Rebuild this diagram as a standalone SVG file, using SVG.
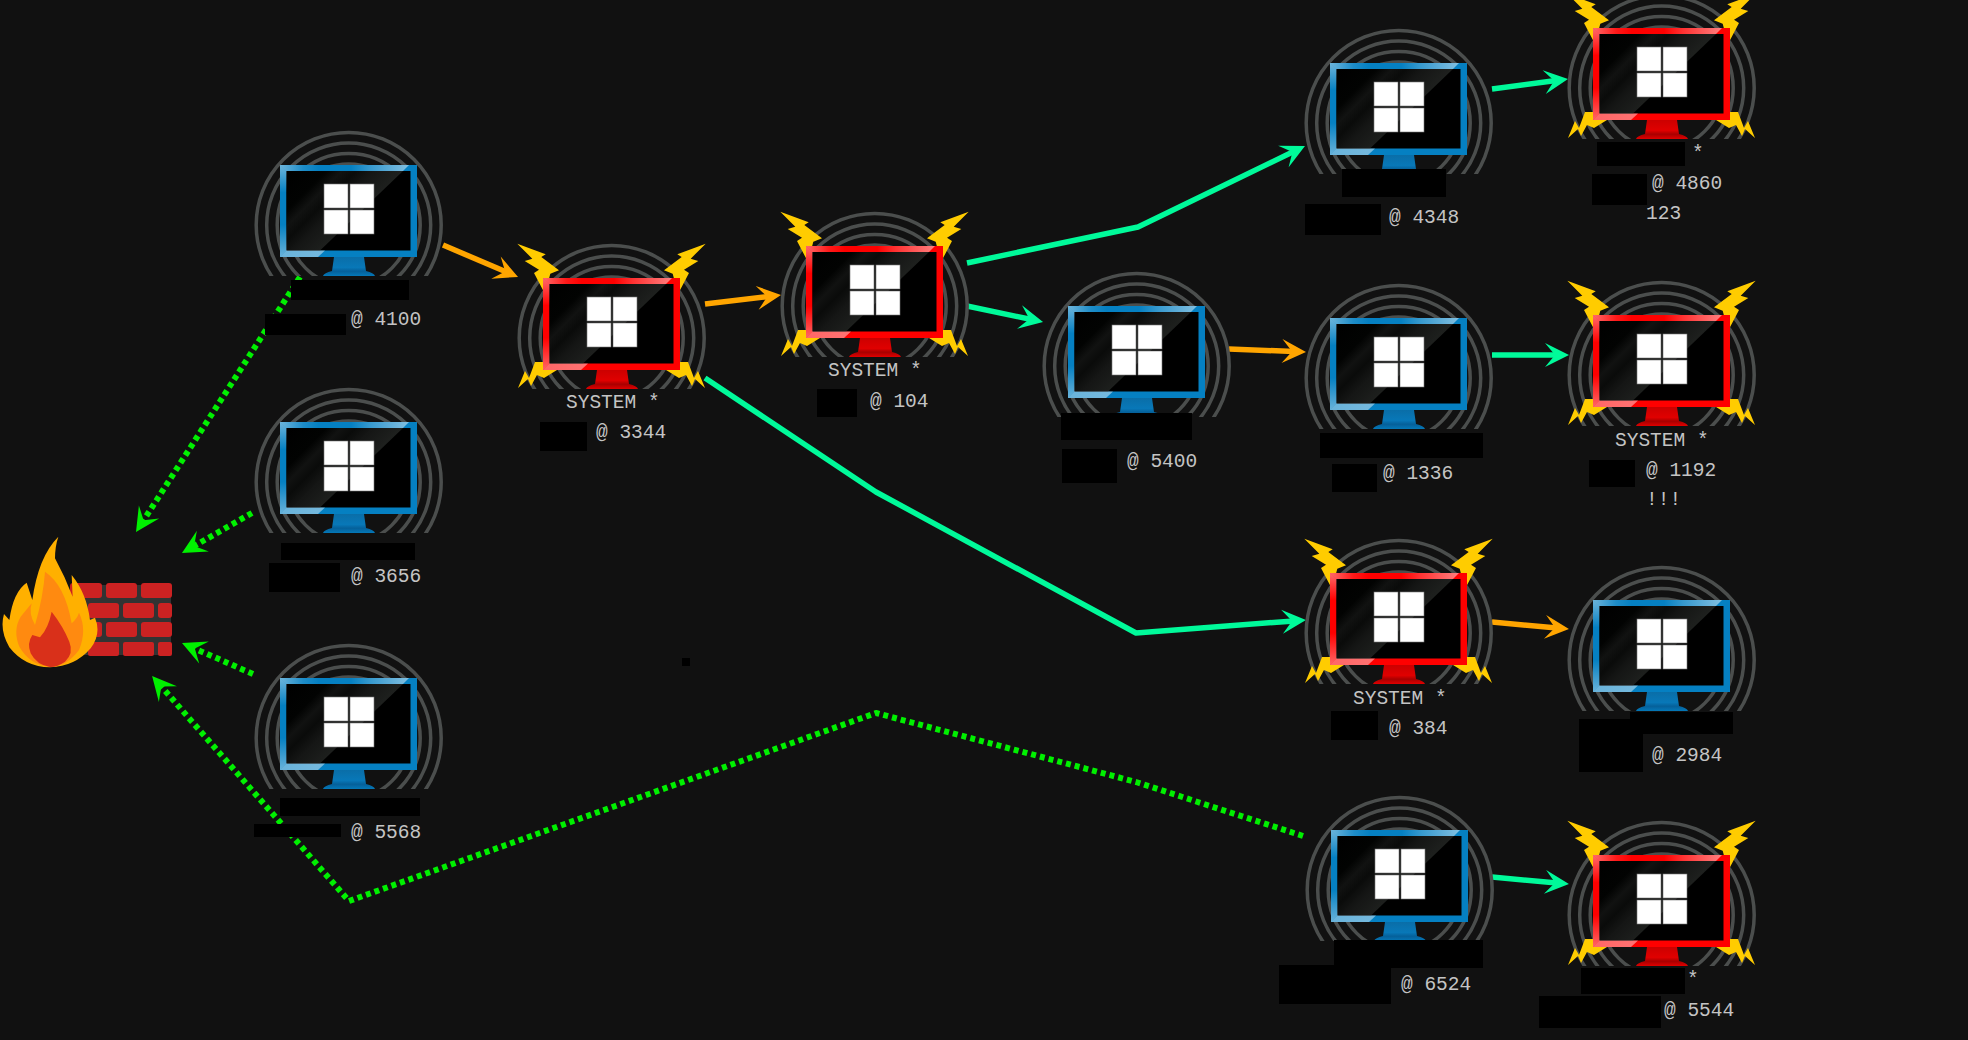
<svg xmlns="http://www.w3.org/2000/svg" width="1968" height="1040" viewBox="0 0 1968 1040">
<style>
.t{font-family:"Liberation Mono","DejaVu Sans Mono",monospace;font-size:19.5px;fill:#c4c4c4}
.k{fill:#000}
.c{fill:none;stroke-width:5.5;stroke-linejoin:round}
.g{stroke:#00fa9a;marker-end:url(#ag)}
.o{stroke:#ffa500;marker-end:url(#ao)}
.d{stroke:#00f000;stroke-width:6;stroke-dasharray:5 4;marker-end:url(#ad)}
.r{fill:none;stroke:#4b4e4d;stroke-width:3.5}
.b{fill:#ffcc00}
.w{fill:#fff;stroke:#777;stroke-width:.6}
.br{fill:#cc2222}
</style>
<defs>
<marker id="ag" markerUnits="userSpaceOnUse" markerWidth="26" markerHeight="26" viewBox="0 0 26 26" refX="14" refY="13" orient="auto"><path d="M26 13 2 1 12 13 2 25Z" fill="#00fa9a"/></marker>
<marker id="ao" markerUnits="userSpaceOnUse" markerWidth="26" markerHeight="26" viewBox="0 0 26 26" refX="14" refY="13" orient="auto"><path d="M26 13 2 1 12 13 2 25Z" fill="#ffa500"/></marker>
<marker id="ad" markerUnits="userSpaceOnUse" markerWidth="26" markerHeight="26" viewBox="0 0 26 26" refX="14" refY="13" orient="auto"><path d="M26 13 2 1 12 13 2 25Z" fill="#00f000"/></marker>
<clipPath id="cl"><rect x="-40" y="-60" width="220" height="171"/></clipPath>
<linearGradient id="gl" gradientUnits="userSpaceOnUse" x1="6" y1="6" x2="64" y2="64">
<stop offset="0" stop-color="#000"/><stop offset=".35" stop-color="#020302"/><stop offset=".48" stop-color="#111211"/><stop offset=".6" stop-color="#0a0b0a"/><stop offset=".75" stop-color="#151615"/><stop offset="1" stop-color="#1e201e"/>
</linearGradient>
<linearGradient id="gt"><stop offset="0" stop-color="#fff" stop-opacity=".42"/><stop offset=".18" stop-color="#fff" stop-opacity=".1"/><stop offset=".3" stop-color="#fff" stop-opacity="0"/><stop offset=".55" stop-color="#fff" stop-opacity="0"/><stop offset=".7" stop-color="#fff" stop-opacity=".2"/><stop offset="1" stop-color="#fff" stop-opacity=".5"/></linearGradient>
<linearGradient id="gf" x1="0" y1="0" x2="0" y2="1"><stop offset="0" stop-color="#fff" stop-opacity=".42"/><stop offset=".3" stop-color="#fff" stop-opacity="0"/><stop offset=".65" stop-color="#fff" stop-opacity="0"/><stop offset="1" stop-color="#fff" stop-opacity=".4"/></linearGradient>
<linearGradient id="gb"><stop offset="0" stop-color="#fff" stop-opacity=".4"/><stop offset="1" stop-color="#fff" stop-opacity=".45"/></linearGradient>
<linearGradient id="sb" x1="0" y1="0" x2="0" y2="1"><stop offset="0" stop-color="#0a6ea8"/><stop offset=".55" stop-color="#0878b8"/><stop offset=".75" stop-color="#05609a"/><stop offset="1" stop-color="#0478b8"/></linearGradient>
<linearGradient id="sr" x1="0" y1="0" x2="0" y2="1"><stop offset="0" stop-color="#c00"/><stop offset=".55" stop-color="#e00000"/><stop offset=".75" stop-color="#a80000"/><stop offset="1" stop-color="#e00000"/></linearGradient>
<g id="rings" clip-path="url(#cl)"><circle cx="68.7" cy="60" r="92.5" class="r"/><circle cx="68.7" cy="60" r="82" class="r"/><circle cx="68.7" cy="60" r="71.5" class="r"/><circle cx="68.7" cy="60" r="61" class="r"/></g>
<g id="glass">
<rect x="6.5" y="6" width="124" height="79.5" fill="#000"/>
<path d="M6.5 6H123L40 85.5H6.5Z" fill="url(#gl)"/>
<path d="M0 0H129L123 6H6.5Z" fill="url(#gt)"/>
<path d="M0 0 6.5 6V85.5L0 92Z" fill="url(#gf)"/>
<path d="M0 92 6.5 85.5H45L38 92Z" fill="url(#gb)"/>
<rect x="44" y="19" width="24" height="24" class="w"/><rect x="70" y="19" width="24" height="24" class="w"/><rect x="44" y="45" width="24" height="24" class="w"/><rect x="70" y="45" width="24" height="24" class="w"/>
</g>
<path id="stand" d="M54 92H84L86 106Q94 108 95 111H43Q44 108 52 106Z"/>
<g id="blue"><use href="#rings"/><rect width="137" height="92" fill="#0580c2"/><use href="#stand" fill="url(#sb)"/><use href="#glass"/></g>
<g id="bolts">
<g id="bl"><path class="b" d="M-25.7-34.3 2.7-23.7-1.7-21 16-7.7 7.3-4.3 2 16-9-5-4-8.3-18.3-17-10.7-19.3Z"/><path class="b" d="M-25 110-18 93-14 100-8 84 0 84 0 92 14 92 1 100-6 97-12 108-15 101Z"/></g>
<use href="#bl" transform="matrix(-1 0 0 1 137 0)"/>
</g>
<g id="red"><use href="#rings"/><use href="#bolts"/><rect width="137" height="92" fill="#f00"/><use href="#stand" fill="url(#sr)"/><use href="#glass"/></g>
</defs>
<rect width="1968" height="1040" fill="#111"/>
<g id="connectors">
<path class="c o" d="M443 245 507 272.3"/>
<path class="c o" d="M705 304 769.1 296.4"/>
<path class="c g" d="M967 306 1031.3 319.5"/>
<path class="c g" d="M967 263 1138 227 1294.2 151.2"/>
<path class="c o" d="M1229 349 1294 351.5"/>
<path class="c g" d="M1492 89 1556.1 80.6"/>
<path class="c g" d="M1492 355H1557"/>
<path class="c o" d="M1492 622 1557 628"/>
<path class="c g" d="M705 378 876 492 1136 633 1294 620.9"/>
<path class="c g" d="M1492 877 1557 883"/>
<path class="c d" d="M300 277 142.5 522"/>
<path class="c d" d="M252 513 192.4 547"/>
<path class="c d" d="M253 674 193 647.8"/>
<path class="c d" d="M1303 836 1136 782 876 713 349 901 160 685"/>
</g>
<g id="firewall">
<rect x="72" y="585" width="99" height="70" fill="#333"/>
<rect class="br" x="70" y="583" width="32" height="15" rx="3"/><rect class="br" x="106" y="583" width="31" height="15" rx="3"/><rect class="br" x="141" y="583" width="31" height="15" rx="3"/>
<rect class="br" x="88" y="603" width="31" height="15" rx="3"/><rect class="br" x="123" y="603" width="31" height="15" rx="3"/><rect class="br" x="158" y="603" width="14" height="15" rx="3"/>
<rect class="br" x="70" y="622" width="32" height="15" rx="3"/><rect class="br" x="106" y="622" width="31" height="15" rx="3"/><rect class="br" x="141" y="622" width="31" height="15" rx="3"/>
<rect class="br" x="88" y="642" width="31" height="14" rx="2"/><rect class="br" x="123" y="642" width="31" height="14" rx="2"/><rect class="br" x="158" y="642" width="14" height="14" rx="2"/>
<g transform="translate(0 520) scale(.3333)">
<path fill="#ffb000" d="M175 50Q115 110 97 240L80 188Q40 215 28 300L12 282Q-2 330 28 382Q75 442 150 442Q225 440 272 385Q305 340 285 293L270 300Q260 220 215 165L218 230Q195 170 165 115Q165 80 175 50Z"/>
<path fill="#ff8a10" d="M135 155Q195 195 215 310Q232 295 237 278Q262 330 237 390Q200 440 150 441Q90 435 58 380Q38 330 62 290L95 250Q85 280 105 315Q130 230 135 155Z"/>
<path fill="#d9301a" d="M155 275Q190 320 208 365Q222 400 195 425Q170 442 150 441Q110 435 92 400Q80 370 97 345L120 352Q145 325 155 275Z"/>
</g>
</g>
<g id="node-1"><use href="#blue" x="280" y="165"/><rect class="k" x="291" y="280" width="118" height="20"/><text class="t" x="351" y="325">@ 4100</text><rect class="k" x="265" y="314" width="81" height="21"/></g>
<g id="node-2"><use href="#blue" x="280" y="422"/><rect class="k" x="281" y="543" width="134" height="17"/><text class="t" x="351" y="582">@ 3656</text><rect class="k" x="269" y="563" width="71" height="29"/></g>
<g id="node-3"><use href="#blue" x="280" y="678"/><rect class="k" x="280" y="798" width="140" height="18"/><text class="t" x="351" y="838">@ 5568</text><rect class="k" x="254" y="824" width="87" height="13"/></g>
<g id="node-4"><use href="#red" x="543" y="278"/><text class="t" x="566" y="408">SYSTEM *</text><text class="t" x="596" y="438">@ 3344</text><rect class="k" x="540" y="422" width="47" height="29"/></g>
<g id="node-5"><use href="#red" x="806" y="246"/><text class="t" x="828" y="376">SYSTEM *</text><text class="t" x="870" y="407">@ 104</text><rect class="k" x="817" y="389" width="40" height="28"/></g>
<g id="node-6"><use href="#blue" x="1068" y="306"/><rect class="k" x="1061" y="413" width="131" height="27"/><text class="t" x="1127" y="467">@ 5400</text><rect class="k" x="1062" y="449" width="55" height="34"/></g>
<g id="node-7"><use href="#blue" x="1330" y="63"/><rect class="k" x="1342" y="169" width="104" height="28"/><text class="t" x="1389" y="223">@ 4348</text><rect class="k" x="1305" y="204" width="76" height="31"/></g>
<g id="node-8"><use href="#blue" x="1330" y="318"/><rect class="k" x="1320" y="433" width="163" height="25"/><text class="t" x="1383" y="479">@ 1336</text><rect class="k" x="1332" y="464" width="45" height="28"/></g>
<g id="node-9"><use href="#red" x="1330" y="573"/><text class="t" x="1353" y="704">SYSTEM *</text><text class="t" x="1389" y="734">@ 384</text><rect class="k" x="1331" y="711" width="47" height="29"/></g>
<g id="node-10"><use href="#blue" x="1331" y="830"/><rect class="k" x="1334" y="940" width="149" height="28"/><text class="t" x="1401" y="990">@ 6524</text><rect class="k" x="1279" y="965" width="112" height="39"/></g>
<g id="node-11"><use href="#red" x="1593" y="28"/><rect class="k" x="1597" y="142" width="88" height="24"/><text class="t" x="1692" y="159">*</text><text class="t" x="1652" y="189">@ 4860</text><rect class="k" x="1592" y="174" width="55" height="31"/><text class="t" x="1646" y="219">123</text></g>
<g id="node-12"><use href="#red" x="1593" y="315"/><text class="t" x="1615" y="446">SYSTEM *</text><text class="t" x="1646" y="476">@ 1192</text><rect class="k" x="1589" y="460" width="46" height="27"/><text class="t" x="1646" y="505">!!!</text></g>
<g id="node-13"><use href="#blue" x="1593" y="600"/><rect class="k" x="1630" y="712" width="103" height="22"/><text class="t" x="1652" y="761">@ 2984</text><rect class="k" x="1579" y="719" width="64" height="53"/></g>
<g id="node-14"><use href="#red" x="1593" y="855"/><rect class="k" x="1581" y="968" width="104" height="26"/><text class="t" x="1687" y="985">*</text><text class="t" x="1664" y="1016">@ 5544</text><rect class="k" x="1539" y="996" width="122" height="32"/></g>
<rect class="k" x="682" y="658" width="8" height="8"/>
</svg>
